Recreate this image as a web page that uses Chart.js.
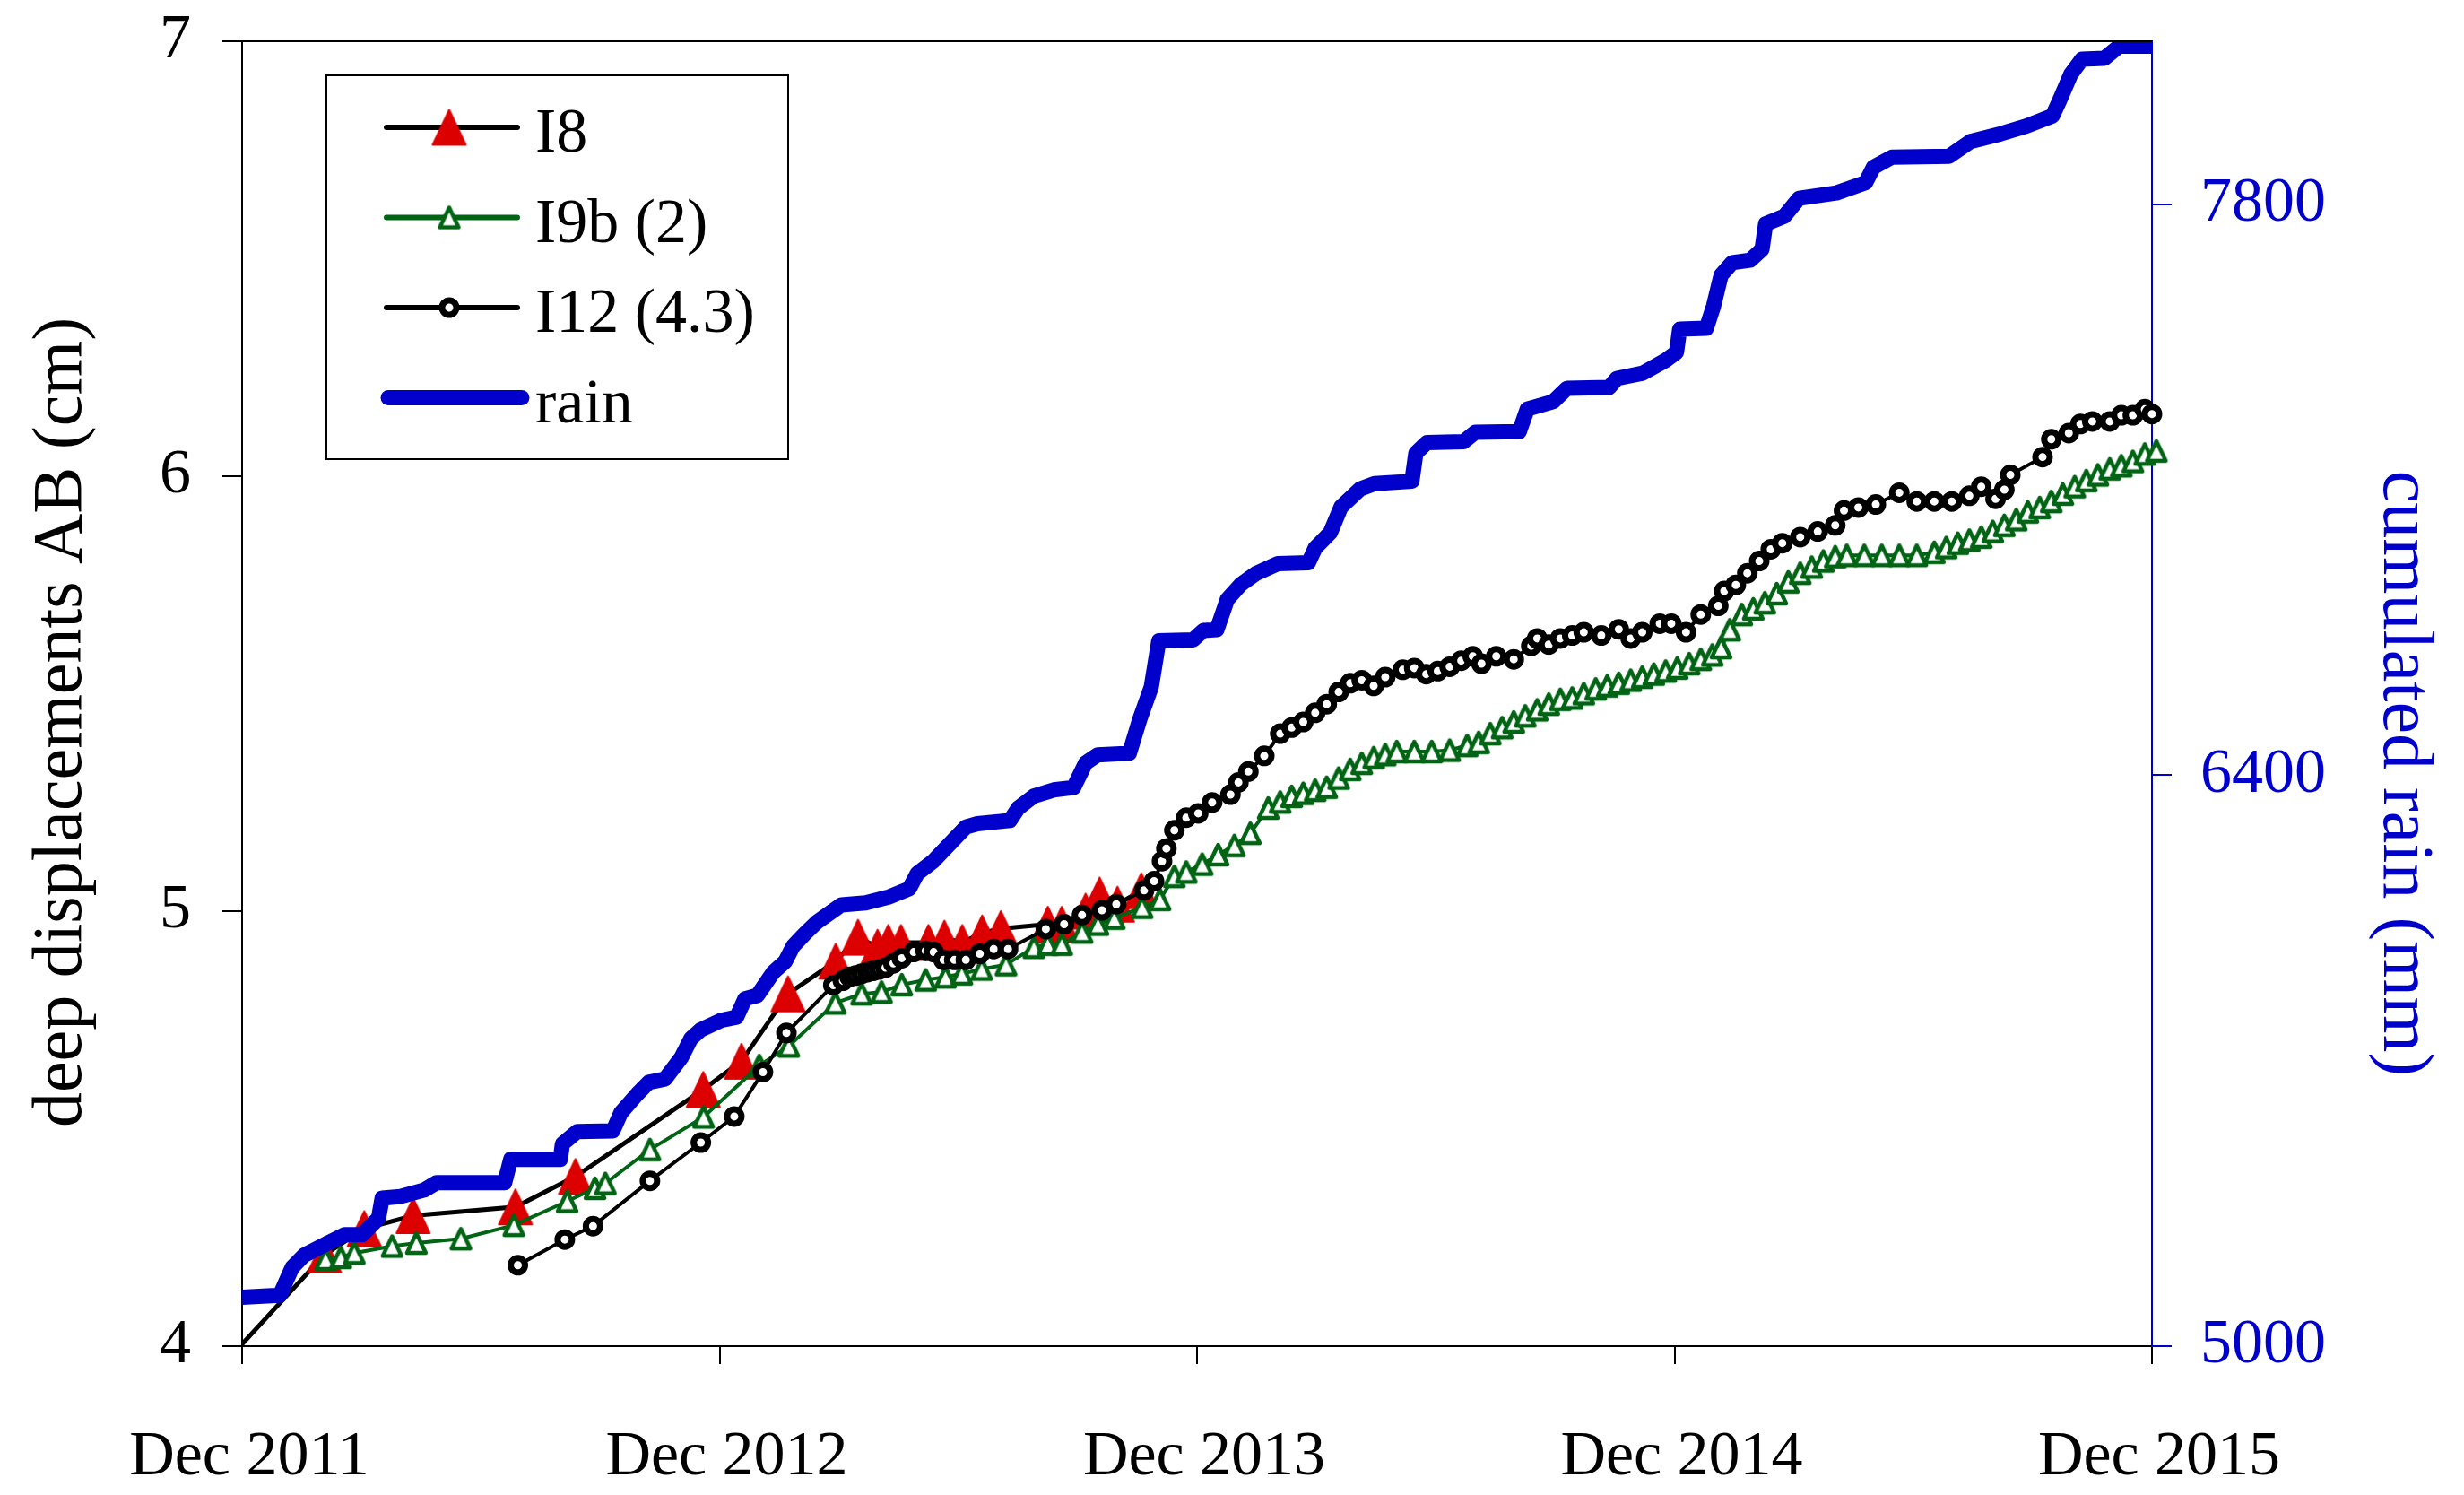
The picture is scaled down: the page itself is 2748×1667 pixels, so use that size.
<!DOCTYPE html>
<html>
<head>
<meta charset="utf-8">
<title>deep displacements and cumulated rain</title>
<script src="https://cdn.jsdelivr.net/npm/chart.js"></script>
<style>
  html, body { margin: 0; padding: 0; background: #fff; }
  canvas { display: block; }
</style>
</head>
<body>
<canvas id="chart" width="2748" height="1667"></canvas>
<script>
// x values are months since Dec 2011
const X_TICKS = [0, 12, 24, 36, 48];
const X_LABELS = ['Dec 2011', 'Dec 2012', 'Dec 2013', 'Dec 2014', 'Dec 2015'];
const Y_TICKS = [4, 5, 6, 7];
const RAIN_TICKS = [5000, 6400, 7800];

const Y_TITLE = 'deep displacements AB (cm)';
const RAIN_TITLE = 'cumulated rain (mm)';
const SERIES_NAMES = ['I8', 'I9b (2)', 'I12 (4.3)', 'rain'];

// [month, cm]
const I8_POINTS = [
    [-0.3, 3.975], [2.07, 4.21], [3.07, 4.27], [4.3, 4.3], [6.87, 4.32], [8.38, 4.39],
    [11.59, 4.59], [12.55, 4.655], [13.72, 4.81], [14.92, 4.885], [15.48, 4.94],
    [15.97, 4.917], [16.24, 4.928], [16.56, 4.928], [17.25, 4.928], [17.65, 4.938],
    [18.1, 4.928], [18.6, 4.95], [19.07, 4.96], [20.25, 4.97], [20.6, 4.97],
    [21.2, 5.0], [21.55, 5.037], [22.0, 5.016], [22.6, 5.047],
];

const I9B_POINTS = [
    [2.1, 4.2], [2.48, 4.204], [2.82, 4.214], [3.77, 4.23], [4.38, 4.237], [5.5, 4.247],
    [6.83, 4.278], [8.17, 4.333], [8.87, 4.363], [9.13, 4.374], [10.25, 4.452],
    [11.6, 4.527], [13.0, 4.645], [13.74, 4.69], [14.91, 4.789], [15.57, 4.81],
    [16.07, 4.814], [16.58, 4.831], [17.18, 4.842], [17.68, 4.849], [18.09, 4.856],
    [18.59, 4.867], [19.2, 4.877], [19.9, 4.917], [20.25, 4.924], [20.6, 4.924],
    [21.11, 4.952], [21.51, 4.97], [21.92, 4.984], [22.62, 5.009], [23.07, 5.027],
    [23.43, 5.08], [23.73, 5.09], [24.13, 5.108], [24.53, 5.13], [24.94, 5.151],
    [25.34, 5.179], [25.79, 5.237], [26.09, 5.251], [26.38, 5.264], [26.67, 5.271],
    [26.97, 5.278], [27.26, 5.285], [27.56, 5.306], [27.85, 5.326], [28.14, 5.34],
    [28.44, 5.353], [28.73, 5.36], [29.02, 5.367], [29.46, 5.367], [29.9, 5.367],
    [30.35, 5.37], [30.79, 5.381], [31.08, 5.388], [31.37, 5.408], [31.67, 5.422],
    [31.96, 5.435], [32.25, 5.449], [32.55, 5.463], [32.84, 5.476], [33.13, 5.487],
    [33.43, 5.49], [33.72, 5.5], [34.02, 5.511], [34.31, 5.518], [34.6, 5.524],
    [34.9, 5.531], [35.19, 5.538], [35.48, 5.545], [35.78, 5.552], [36.07, 5.559],
    [36.37, 5.569], [36.66, 5.579], [36.95, 5.589], [37.17, 5.606], [37.39, 5.647],
    [37.69, 5.682], [37.98, 5.695], [38.27, 5.709], [38.57, 5.73], [38.86, 5.757],
    [39.16, 5.777], [39.45, 5.791], [39.74, 5.805], [40.04, 5.815], [40.33, 5.818],
    [40.77, 5.818], [41.21, 5.818], [41.65, 5.818], [42.09, 5.818], [42.53, 5.825],
    [42.83, 5.836], [43.12, 5.846], [43.41, 5.853], [43.71, 5.86], [44.0, 5.873],
    [44.29, 5.887], [44.59, 5.9], [44.88, 5.918], [45.18, 5.928], [45.47, 5.942],
    [45.76, 5.959], [46.06, 5.976], [46.35, 5.99], [46.64, 6.003], [46.94, 6.017],
    [47.23, 6.024], [47.52, 6.034], [47.82, 6.051], [48.11, 6.058], [48.41, 6.075],
];

const I12_POINTS = [
    [6.93, 4.186], [8.11, 4.245], [8.82, 4.276], [10.25, 4.38], [11.53, 4.468],
    [12.37, 4.528], [13.09, 4.63], [13.68, 4.72], [14.86, 4.83], [15.1, 4.84],
    [15.27, 4.849], [15.42, 4.852], [15.57, 4.856], [15.72, 4.86], [15.87, 4.863],
    [16.02, 4.866], [16.17, 4.87], [16.37, 4.88], [16.58, 4.892], [16.88, 4.906],
    [17.18, 4.909], [17.38, 4.906], [17.63, 4.888], [17.9, 4.888], [18.19, 4.888],
    [18.54, 4.902], [18.89, 4.913], [19.25, 4.913], [20.2, 4.959], [20.66, 4.97],
    [21.11, 4.991], [21.61, 5.002], [21.97, 5.016], [22.67, 5.048], [22.92, 5.069],
    [23.12, 5.115], [23.23, 5.144], [23.43, 5.186], [23.73, 5.215], [24.03, 5.225],
    [24.38, 5.25], [24.84, 5.268], [25.04, 5.296], [25.29, 5.321], [25.69, 5.357],
    [26.09, 5.408], [26.38, 5.422], [26.67, 5.435], [26.97, 5.456], [27.26, 5.476],
    [27.56, 5.504], [27.85, 5.524], [28.14, 5.531], [28.44, 5.518], [28.73, 5.538],
    [29.17, 5.555], [29.46, 5.559], [29.76, 5.545], [30.05, 5.552], [30.35, 5.562],
    [30.64, 5.576], [30.93, 5.586], [31.15, 5.569], [31.52, 5.586], [31.96, 5.579],
    [32.4, 5.61], [32.55, 5.627], [32.84, 5.613], [33.13, 5.627], [33.43, 5.634],
    [33.72, 5.641], [34.16, 5.634], [34.6, 5.648], [34.9, 5.627], [35.19, 5.641],
    [35.63, 5.661], [35.92, 5.661], [36.29, 5.641], [36.66, 5.682], [37.1, 5.702],
    [37.25, 5.736], [37.54, 5.75], [37.83, 5.777], [38.13, 5.805], [38.42, 5.832],
    [38.71, 5.846], [39.16, 5.86], [39.6, 5.873], [40.04, 5.887], [40.26, 5.921],
    [40.62, 5.928], [41.06, 5.935], [41.65, 5.962], [42.09, 5.942], [42.53, 5.942],
    [42.97, 5.942], [43.41, 5.955], [43.71, 5.976], [44.07, 5.948], [44.29, 5.969],
    [44.44, 6.003], [45.25, 6.044], [45.47, 6.085], [45.91, 6.099], [46.2, 6.12],
    [46.5, 6.126], [46.94, 6.126], [47.23, 6.14], [47.52, 6.14], [47.82, 6.154],
    [48.0, 6.143],
];

// [month, mm]
const RAIN_POINTS = [
    [0, 5120], [0.95, 5125], [1.26, 5193], [1.56, 5223], [2.12, 5251], [2.57, 5273],
    [3.02, 5273], [3.43, 5314], [3.52, 5363], [3.98, 5367], [4.58, 5383], [4.89, 5401],
    [6.6, 5401], [6.75, 5458], [8.0, 5458], [8.05, 5496], [8.42, 5526], [9.32, 5528],
    [9.52, 5572], [9.93, 5618], [10.22, 5647], [10.63, 5655], [11.04, 5708],
    [11.28, 5754], [11.53, 5776], [12.04, 5799], [12.43, 5807], [12.64, 5852],
    [12.95, 5860], [13.35, 5917], [13.65, 5943], [13.85, 5981], [14.15, 6012],
    [14.46, 6041], [15.06, 6082], [15.67, 6087], [16.27, 6102], [16.77, 6122],
    [16.97, 6159], [17.38, 6190], [18.19, 6273], [18.48, 6281], [19.3, 6289],
    [19.5, 6319], [19.9, 6349], [20.4, 6364], [20.9, 6370], [21.2, 6430], [21.5, 6450],
    [22.3, 6454], [22.57, 6540], [22.85, 6616], [23.04, 6730], [23.9, 6732],
    [24.16, 6755], [24.5, 6757], [24.76, 6831], [25.1, 6868], [25.47, 6894],
    [26.03, 6919], [26.8, 6921], [26.97, 6957], [27.35, 6995], [27.62, 7058],
    [28.1, 7102], [28.46, 7115], [29.4, 7121], [29.5, 7190], [29.78, 7216],
    [30.7, 7218], [30.99, 7241], [32.1, 7243], [32.3, 7298], [32.95, 7316],
    [33.3, 7349], [34.36, 7351], [34.55, 7373], [35.2, 7386], [35.77, 7417],
    [36.05, 7437], [36.13, 7494], [36.8, 7496], [36.98, 7550], [37.17, 7626],
    [37.45, 7657], [37.9, 7663], [38.2, 7690], [38.29, 7752], [38.76, 7771],
    [39.13, 7815], [40.07, 7828], [40.8, 7853], [41.0, 7891], [41.47, 7916],
    [42.9, 7918], [43.44, 7954], [44.2, 7973], [44.84, 7992], [45.5, 8017],
    [45.68, 8055], [45.96, 8119], [46.24, 8156], [46.8, 8158], [47.18, 8188],
    [48.0, 8188],
];

const COLORS = {
    black: '#000000',
    red: '#dd0000',
    green: '#006414',
    blue: '#0000cc',
};

const FONT = '"Liberation Serif", "Times New Roman", serif';

function toXY(points) {
    return points.map(([x, y]) => ({ x, y }));
}

// Excel-style triangle marker (taller than Chart.js' equilateral one)
function triangleMarker(w, h, fill, stroke, lw) {
    const pad = Math.ceil(lw / 2) + 1;
    const c = document.createElement('canvas');
    c.width = w + pad * 2;
    c.height = h + pad * 2;
    const g = c.getContext('2d');
    g.beginPath();
    g.moveTo(c.width / 2, pad);
    g.lineTo(pad + w, pad + h);
    g.lineTo(pad, pad + h);
    g.closePath();
    g.fillStyle = fill;
    g.fill();
    g.lineJoin = 'round';
    g.lineWidth = lw;
    g.strokeStyle = stroke;
    g.stroke();
    return c;
}

const RED_TRIANGLE = triangleMarker(37, 39, COLORS.red, COLORS.red, 2);
const GREEN_TRIANGLE = triangleMarker(21, 22, '#ffffff', COLORS.green, 4.5);

// Fixed axis band sizes so the plot area lands where the original had it
function fixWidth(w) {
    return (scale) => {
        scale.width = w;
        scale.paddingTop = 0;
        scale.paddingBottom = 0;
    };
}

// Axis titles drawn by hand: the original sets them off-centre along the axes
const axisTitles = {
    id: 'axisTitles',
    afterDraw(chart) {
        const { ctx, chartArea } = chart;
        const mid = (chartArea.top + chartArea.bottom) / 2;
        ctx.save();
        ctx.textAlign = 'center';
        ctx.textBaseline = 'alphabetic';

        ctx.fillStyle = COLORS.black;
        ctx.font = `78px ${FONT}`;
        ctx.translate(chartArea.left - 180, mid + 32);
        ctx.rotate(-Math.PI / 2);
        ctx.fillText(Y_TITLE, 0, 0);
        ctx.setTransform(1, 0, 0, 1, 0, 0);

        ctx.fillStyle = COLORS.blue;
        ctx.font = `80px ${FONT}`;
        ctx.translate(chartArea.right + 259, mid + 89);
        ctx.rotate(Math.PI / 2);
        ctx.fillText(RAIN_TITLE, 0, 0);
        ctx.restore();

        // top edge of the plot frame
        ctx.save();
        ctx.strokeStyle = COLORS.black;
        ctx.lineWidth = 2;
        ctx.beginPath();
        ctx.moveTo(chartArea.left, chartArea.top);
        ctx.lineTo(chartArea.right, chartArea.top);
        ctx.stroke();
        ctx.restore();
    },
};

// Boxed legend with line + marker samples, top-left inside the plot
const boxLegend = {
    id: 'boxLegend',
    afterDraw(chart) {
        const { ctx } = chart;
        const box = { left: 364, top: 84, width: 515, height: 428 };
        ctx.save();
        ctx.fillStyle = '#fff';
        ctx.fillRect(box.left, box.top, box.width, box.height);
        ctx.strokeStyle = COLORS.black;
        ctx.lineWidth = 2;
        ctx.strokeRect(box.left, box.top, box.width, box.height);

        chart.data.datasets.forEach((ds, i) => {
            const y = box.top + 58 + i * 100.5;
            const thick = ds.borderWidth > 10;
            ctx.strokeStyle = ds.borderColor;
            ctx.lineWidth = thick ? ds.borderWidth : 6;
            ctx.lineCap = 'round';
            ctx.beginPath();
            ctx.moveTo(box.left + (thick ? 69 : 67), y);
            ctx.lineTo(box.left + (thick ? 218 : 213), y);
            ctx.stroke();

            if (ds.pointStyle) {
                ctx.fillStyle = ds.pointBackgroundColor || '#fff';
                ctx.strokeStyle = ds.pointBorderColor || ds.borderColor;
                ctx.lineWidth = ds.pointBorderWidth || 1;
                Chart.helpers.drawPoint(ctx, {
                    pointStyle: ds.pointStyle,
                    radius: typeof ds.pointRadius === 'number' ? ds.pointRadius : 10,
                    borderWidth: ds.pointBorderWidth || 1,
                    rotation: 0,
                }, box.left + 137, y);
            }

            ctx.fillStyle = COLORS.black;
            ctx.font = `70px ${FONT}`;
            ctx.textAlign = 'left';
            ctx.textBaseline = 'alphabetic';
            ctx.fillText(SERIES_NAMES[i], box.left + 233, y + 27);
        });
        ctx.restore();
    },
};

const tickFont = { family: FONT, size: 70 };

new Chart(document.getElementById('chart'), {
    type: 'line',
    data: {
        datasets: [
            {
                label: SERIES_NAMES[0],
                data: toXY(I8_POINTS),
                yAxisID: 'y',
                borderColor: COLORS.black,
                borderWidth: 5,
                pointStyle: RED_TRIANGLE,
                // first reading sits outside the frame, no marker there
                pointRadius: (c) => (c.dataIndex === 0 ? 0 : 18),
                order: 3,
            },
            {
                label: SERIES_NAMES[1],
                data: toXY(I9B_POINTS),
                yAxisID: 'y',
                borderColor: COLORS.green,
                borderWidth: 4,
                pointStyle: GREEN_TRIANGLE,
                pointRadius: 12,
                clip: false,
                order: 2,
            },
            {
                label: SERIES_NAMES[2],
                data: toXY(I12_POINTS),
                yAxisID: 'y',
                borderColor: COLORS.black,
                borderWidth: 4,
                pointStyle: 'circle',
                pointRadius: 8,
                pointBackgroundColor: '#ffffff',
                pointBorderColor: COLORS.black,
                pointBorderWidth: 7,
                clip: false,
                order: 1,
            },
            {
                label: SERIES_NAMES[3],
                data: toXY(RAIN_POINTS),
                yAxisID: 'y2',
                borderColor: COLORS.blue,
                borderWidth: 17,
                borderJoinStyle: 'round',
                pointRadius: 0,
                order: 0,
            },
        ],
    },
    options: {
        responsive: false,
        devicePixelRatio: 1,
        animation: false,
        events: [],
        layout: { padding: { top: 46, left: 0, right: 0, bottom: 0 } },
        elements: { line: { tension: 0 } },
        plugins: {
            legend: { display: false },
            tooltip: { enabled: false },
        },
        scales: {
            x: {
                type: 'linear',
                min: 0,
                max: 48,
                afterBuildTicks: (scale) => { scale.ticks = X_TICKS.map(v => ({ value: v })); },
                afterFit: (scale) => {
                    scale.height = 166;
                    scale.paddingLeft = 0;
                    scale.paddingRight = 0;
                },
                ticks: {
                    font: tickFont,
                    color: COLORS.black,
                    padding: 63,
                    labelOffset: 8,
                    maxRotation: 0,
                    callback: (v) => X_LABELS[X_TICKS.indexOf(v)] ?? '',
                },
                grid: { drawOnChartArea: false, tickLength: 20, color: COLORS.black, lineWidth: 2 },
                border: { color: COLORS.black, width: 2 },
            },
            y: {
                position: 'left',
                min: 4,
                max: 7,
                afterBuildTicks: (scale) => { scale.ticks = Y_TICKS.map(v => ({ value: v })); },
                afterFit: fixWidth(270),
                ticks: { font: tickFont, color: COLORS.black, padding: 35, callback: (v) => String(v) },
                grid: { drawOnChartArea: false, tickLength: 22, color: COLORS.black, lineWidth: 2 },
                border: { color: COLORS.black, width: 2 },
            },
            y2: {
                position: 'right',
                min: 5000,
                max: 8200,
                afterBuildTicks: (scale) => { scale.ticks = RAIN_TICKS.map(v => ({ value: v })); },
                afterFit: fixWidth(348),
                ticks: { font: tickFont, color: COLORS.blue, padding: 32, callback: (v) => String(v) },
                grid: { drawOnChartArea: false, tickLength: 22, color: COLORS.blue, lineWidth: 2 },
                border: { color: COLORS.blue, width: 2 },
            },
        },
    },
    plugins: [axisTitles, boxLegend],
});
</script>
</body>
</html>
